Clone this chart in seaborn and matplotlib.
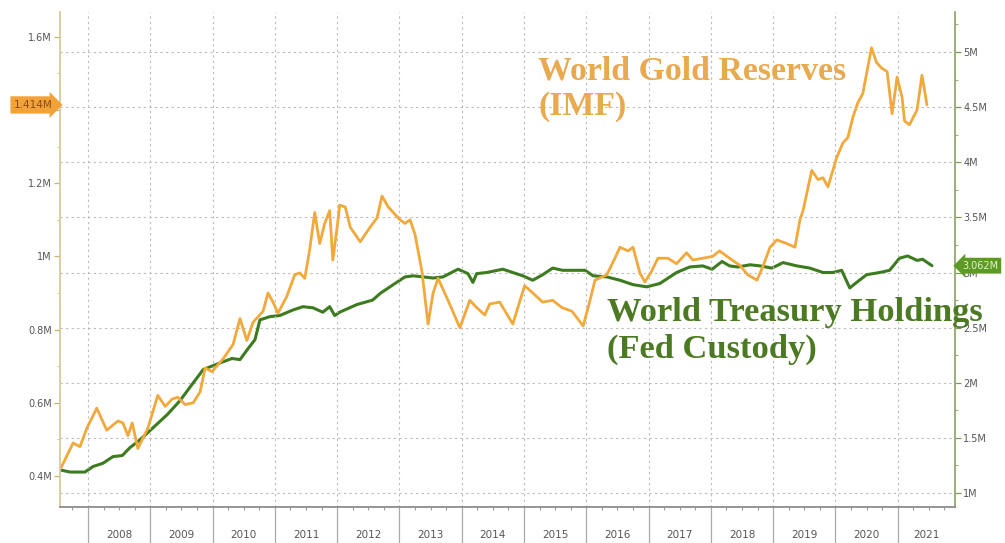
import matplotlib
matplotlib.use("Agg")
import matplotlib.pyplot as plt
import seaborn as sns
from matplotlib.ticker import FixedLocator, MultipleLocator

# ---- data (x in decimal years, values in millions) ----
gold_years = [
    2007.56, 2007.76, 2007.87, 2007.98, 2008.14, 2008.30, 2008.48, 2008.56, 2008.64, 2008.71,
    2008.80, 2008.96, 2009.12, 2009.24, 2009.35, 2009.44, 2009.56, 2009.69, 2009.80, 2009.88,
    2009.99, 2010.17, 2010.33, 2010.44, 2010.55, 2010.65, 2010.81, 2010.89, 2010.97, 2011.05,
    2011.19, 2011.32, 2011.40, 2011.48, 2011.56, 2011.64, 2011.72, 2011.80, 2011.88, 2011.93,
    2012.00, 2012.04, 2012.13, 2012.21, 2012.37, 2012.53, 2012.64, 2012.72, 2012.82, 2013.01,
    2013.09, 2013.17, 2013.25, 2013.36, 2013.46, 2013.54, 2013.62, 2013.78, 2013.97, 2014.13,
    2014.24, 2014.37, 2014.45, 2014.61, 2014.82, 2015.01, 2015.14, 2015.30, 2015.46, 2015.61,
    2015.77, 2015.95, 2016.06, 2016.14, 2016.33, 2016.46, 2016.54, 2016.67, 2016.75, 2016.86,
    2016.94, 2017.05, 2017.15, 2017.31, 2017.45, 2017.61, 2017.71, 2017.87, 2018.03, 2018.14,
    2018.30, 2018.47, 2018.59, 2018.74, 2018.83, 2018.95, 2019.06, 2019.22, 2019.35, 2019.43,
    2019.48, 2019.62, 2019.72, 2019.80, 2019.88, 2020.02, 2020.12, 2020.20, 2020.28, 2020.36,
    2020.44, 2020.50, 2020.58, 2020.66, 2020.74, 2020.83, 2020.91, 2020.99, 2021.07, 2021.11,
    2021.19, 2021.31, 2021.39, 2021.47,
]
gold_values = [
    0.42, 0.49, 0.48, 0.53, 0.585, 0.525, 0.55, 0.545, 0.51, 0.545,
    0.475, 0.53, 0.62, 0.59, 0.61, 0.615, 0.595, 0.60, 0.63, 0.695,
    0.685, 0.72, 0.76, 0.83, 0.77, 0.82, 0.85, 0.90, 0.875, 0.845,
    0.89, 0.95, 0.955, 0.94, 1.02, 1.12, 1.035, 1.09, 1.125, 0.99,
    1.08, 1.14, 1.135, 1.08, 1.04, 1.08, 1.105, 1.165, 1.135, 1.10,
    1.09, 1.10, 1.06, 0.96, 0.815, 0.90, 0.94, 0.88, 0.805, 0.88,
    0.86, 0.84, 0.87, 0.875, 0.815, 0.92, 0.90, 0.875, 0.88, 0.86,
    0.85, 0.81, 0.88, 0.935, 0.95, 0.995, 1.025, 1.015, 1.025, 0.955,
    0.93, 0.96, 0.995, 0.995, 0.98, 1.01, 0.99, 0.995, 1.00, 1.015,
    0.995, 0.975, 0.95, 0.935, 0.97, 1.025, 1.045, 1.035, 1.025, 1.10,
    1.125, 1.235, 1.21, 1.215, 1.19, 1.27, 1.31, 1.325, 1.38, 1.42,
    1.445, 1.50, 1.57, 1.53, 1.515, 1.505, 1.39, 1.49, 1.435, 1.37,
    1.36, 1.40, 1.495, 1.414,
]

treasury_years = [
    2007.55, 2007.71, 2007.95, 2008.08, 2008.24, 2008.40, 2008.55, 2008.67, 2008.83, 2009.04,
    2009.27, 2009.48, 2009.69, 2009.85, 2010.12, 2010.31, 2010.44, 2010.57, 2010.68, 2010.76,
    2010.92, 2011.08, 2011.29, 2011.45, 2011.61, 2011.77, 2011.88, 2011.96, 2012.04, 2012.32,
    2012.57, 2012.69, 2012.90, 2013.09, 2013.22, 2013.38, 2013.54, 2013.70, 2013.94, 2014.10,
    2014.18, 2014.24, 2014.40, 2014.66, 2014.82, 2014.98, 2015.14, 2015.30, 2015.46, 2015.62,
    2015.78, 2015.98, 2016.11, 2016.33, 2016.54, 2016.75, 2016.97, 2017.18, 2017.45, 2017.66,
    2017.87, 2018.02, 2018.18, 2018.30, 2018.43, 2018.63, 2018.79, 2018.98, 2019.16, 2019.38,
    2019.59, 2019.80, 2019.96, 2020.10, 2020.23, 2020.34, 2020.50, 2020.71, 2020.87, 2021.03,
    2021.16, 2021.31, 2021.40, 2021.55,
]
treasury_values = [
    1.21, 1.19, 1.19, 1.24, 1.27, 1.33, 1.34, 1.41, 1.48, 1.59,
    1.71, 1.84, 2.00, 2.12, 2.18, 2.22, 2.21, 2.31, 2.39, 2.57,
    2.60, 2.61, 2.66, 2.69, 2.68, 2.64, 2.69, 2.61, 2.64, 2.71,
    2.75, 2.81, 2.89, 2.96, 2.97, 2.96, 2.95, 2.96, 3.03, 2.99,
    2.91, 2.99, 3.00, 3.03, 3.00, 2.97, 2.93, 2.98, 3.04, 3.02,
    3.02, 3.02, 2.97, 2.96, 2.93, 2.89, 2.87, 2.90, 3.00, 3.05,
    3.06, 3.03, 3.10, 3.06, 3.05, 3.07, 3.06, 3.04, 3.09, 3.06,
    3.04, 3.00, 3.00, 3.02, 2.86, 2.91, 2.98, 3.00, 3.02, 3.13,
    3.15, 3.11, 3.12, 3.062,
]

year_labels = list(range(2008, 2022))
left_ticks = [0.4, 0.6, 0.8, 1.0, 1.2, 1.4, 1.6]
left_tick_labels = ["0.4M", "0.6M", "0.8M", "1M", "1.2M", "", "1.6M"]
right_ticks = [1.0, 1.5, 2.0, 2.5, 3.0, 3.5, 4.0, 4.5, 5.0]
right_tick_labels = ["1M", "1.5M", "2M", "2.5M", "3M", "3.5M", "4M", "4.5M", "5M"]

GOLD = "#F2A93B"
GREEN = "#3D7B1F"

sns.set_theme(style="white")
plt.rcParams["font.family"] = ["DejaVu Sans"]

fig = plt.figure(figsize=(10.05, 5.43), dpi=100)
ax = fig.add_axes([60 / 1005, 1 - 507 / 543, 895 / 1005, 495 / 543])
ax2 = ax.twinx()

# gold on the left scale (drawn on top), treasury on the right scale
ax.set_zorder(ax2.get_zorder() + 1)
ax.patch.set_visible(False)

sns.lineplot(x=treasury_years, y=treasury_values, ax=ax2, color=GREEN,
             linewidth=2.2, sort=False, estimator=None)
sns.lineplot(x=gold_years, y=gold_values, ax=ax, color=GOLD,
             linewidth=2.0, sort=False, estimator=None)

ax.set_xlim(2007.55, 2021.92)
ax.set_ylim(0.315, 1.668)
ax2.set_ylim(0.873, 5.363)

# y axes
ax.yaxis.set_major_locator(FixedLocator(left_ticks))
ax.set_yticklabels(left_tick_labels)
ax.yaxis.set_minor_locator(MultipleLocator(0.1))
ax.tick_params(axis="y", which="major", labelsize=7, labelcolor="#555555",
               color="#C9B27A", length=4, width=0.9, direction="out", pad=2)
ax.tick_params(axis="y", which="minor", color="#D8C89A", length=2, width=0.8, left=True)

ax2.yaxis.set_major_locator(FixedLocator(right_ticks))
ax2.set_yticklabels(right_tick_labels)
ax2.yaxis.set_minor_locator(MultipleLocator(0.25))
ax2.tick_params(axis="y", which="major", labelsize=7, labelcolor="#555555",
                color="#7E9A5A", length=4, width=0.9, direction="out", pad=2)
ax2.tick_params(axis="y", which="minor", color="#9DB080", length=2, width=0.8, right=True)

# x axis: year separators as long ticks, quarters as small ticks
ax.xaxis.set_major_locator(MultipleLocator(1))
ax.xaxis.set_minor_locator(MultipleLocator(0.25))
ax.tick_params(axis="x", which="major", bottom=True, length=26, width=0.9,
               color="#AAAAAA", direction="out", labelbottom=False)
ax.tick_params(axis="x", which="minor", bottom=True, length=2.5, width=0.8,
               color="#999999", direction="out")
for yr in year_labels:
    center = (yr + min(yr + 1, ax.get_xlim()[1])) / 2
    ax.text(center, -0.057, str(yr), transform=ax.get_xaxis_transform(),
            ha="center", va="center", fontsize=7.5, color="#555555")

# grid: dotted, horizontal on right scale, vertical at year boundaries
grid_kw = dict(color="#BBBBBB", linestyle=(0, (2, 3)), linewidth=0.8)
ax2.yaxis.grid(True, which="major", **grid_kw)
ax.xaxis.grid(True, which="major", **grid_kw)
ax.yaxis.grid(False)
ax2.xaxis.grid(False)

for a in (ax, ax2):
    a.spines["top"].set_visible(False)
    a.set_xlabel("")
    a.set_ylabel("")
ax.spines["right"].set_visible(False)
ax.spines["left"].set_color("#D9C896")
ax.spines["bottom"].set_color("#888888")
ax2.spines["left"].set_visible(False)
ax2.spines["bottom"].set_visible(False)
ax2.spines["right"].set_color("#8CA46A")

# last-value tags
ax.text(-0.008, gold_values[-1], f"{gold_values[-1]:.3f}M", transform=ax.get_yaxis_transform(),
        ha="right", va="center", fontsize=7.5, color="#8A4B0B", zorder=10,
        bbox=dict(boxstyle="rarrow,pad=0.35", fc="#F3A23A", ec="none"))
ax2.text(1.008, treasury_values[-1], f"{treasury_values[-1]:.3f}M", transform=ax2.get_yaxis_transform(),
         ha="left", va="center", fontsize=7, color="#E4F2CF", zorder=10,
         bbox=dict(boxstyle="larrow,pad=0.3", fc="#5C9A24", ec="none"))

# series captions
fig.text(538 / 1005, 1 - 55 / 543, "World Gold Reserves\n(IMF)", ha="left", va="top",
         fontsize=24.4, fontweight="bold", family=["Liberation Serif"], color="#E9A94E",
         linespacing=1.2)
fig.text(607 / 1005, 1 - 297 / 543, "World Treasury Holdings\n(Fed Custody)", ha="left", va="top",
         fontsize=24.8, fontweight="bold", family=["Liberation Serif"], color="#4C7A22",
         linespacing=1.25)

fig.savefig("out.png", dpi=100)
